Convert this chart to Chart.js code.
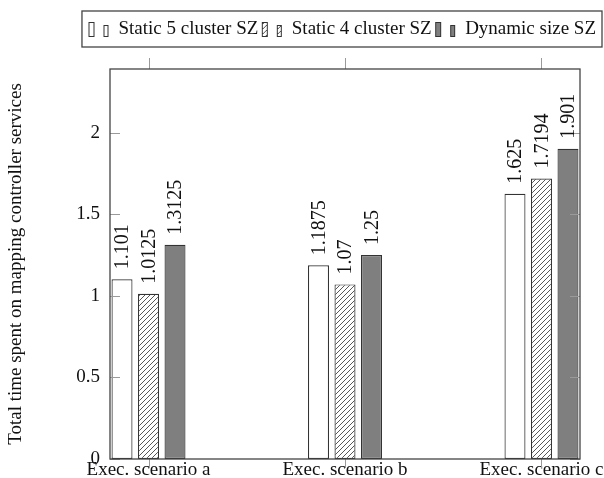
<!DOCTYPE html>
<html><head><meta charset="utf-8">
<script src="https://cdn.jsdelivr.net/npm/chart.js@4/dist/chart.umd.min.js"></script>
<style>html,body{margin:0;padding:0;background:#fff;} canvas{display:block;}</style>
</head><body>
<canvas id="c" width="604" height="478"></canvas>
<script>
const categories = ['Exec. scenario a', 'Exec. scenario b', 'Exec. scenario c'];
const seriesNames = ['Static 5 cluster SZ', 'Static 4 cluster SZ', 'Dynamic size SZ'];
const static5 = [1.101, 1.1875, 1.625];
const static4 = [1.0125, 1.07, 1.7194];
const dynamicSZ = [1.3125, 1.25, 1.901];
const yTicks = [0, 0.5, 1, 1.5, 2];
const yTickLabels = ['0', '0.5', '1', '1.5', '2'];
const yTitle = 'Total time spent on mapping controller services';

const FONT = "'Liberation Serif', 'Times New Roman', serif";
const INK = '#111';
const FRAME = '#444';

function makeHatch() {
  const s = 5;
  const c = document.createElement('canvas');
  c.width = s; c.height = s;
  const g = c.getContext('2d');
  g.fillStyle = '#fff'; g.fillRect(0, 0, s, s);
  g.strokeStyle = '#444'; g.lineWidth = 0.9;
  g.beginPath();
  g.moveTo(0, s); g.lineTo(s, 0);
  g.moveTo(-1, 1); g.lineTo(1, -1);
  g.moveTo(s - 1, s + 1); g.lineTo(s + 1, s - 1);
  g.stroke();
  return g.createPattern(c, 'repeat');
}
const hatch = makeHatch();
const fills = ['#ffffff', hatch, '#7f7f7f'];

function legendIcon(fill) {
  const c = document.createElement('canvas');
  c.width = 22; c.height = 17;
  const g = c.getContext('2d');
  g.lineWidth = 1; g.strokeStyle = '#333'; g.fillStyle = fill;
  g.fillRect(1.5, 1.5, 5, 14); g.strokeRect(1.5, 1.5, 5, 14);
  g.fillRect(16.5, 4.5, 4, 11); g.strokeRect(16.5, 4.5, 4, 11);
  return c;
}
const icons = fills.map(legendIcon);

const seriesValues = [static5, static4, dynamicSZ];

const framePlugin = {
  id: 'frame',
  beforeLayout(chart) {
    const lg = chart.legend;
    if (lg && !lg._patched) {
      const orig = lg.fit;
      lg.fit = function () { orig.call(this); this.height = 52; };
      lg._patched = true;
    }
  },
  afterDatasetsDraw(chart) {
    const {ctx, chartArea: a, scales} = chart;
    ctx.save();
    // tick marks
    ctx.strokeStyle = '#9a9a9a'; ctx.lineWidth = 1;
    ctx.beginPath();
    scales.y.ticks.forEach(t => {
      const py = Math.round(scales.y.getPixelForValue(t.value)) + 0.5;
      ctx.moveTo(a.left, py); ctx.lineTo(a.left + 10, py);
      ctx.moveTo(a.right - 10, py); ctx.lineTo(a.right, py);
    });
    scales.x.ticks.forEach(t => {
      const px = Math.round(scales.x.getPixelForValue(t.value)) + 0.5;
      ctx.moveTo(px, a.top - 11); ctx.lineTo(px, a.top);
      ctx.moveTo(px, a.bottom); ctx.lineTo(px, a.bottom + 9);
    });
    ctx.stroke();
    // frame
    ctx.strokeStyle = FRAME; ctx.lineWidth = 1.3;
    ctx.strokeRect(a.left, a.top, a.right - a.left, a.bottom - a.top);
    // value labels
    ctx.font = '20px ' + FONT; ctx.fillStyle = INK;
    ctx.textAlign = 'left'; ctx.textBaseline = 'middle';
    chart.data.datasets.forEach((ds, di) => {
      const meta = chart.getDatasetMeta(di);
      meta.data.forEach((el, i) => {
        ctx.save();
        ctx.translate(el.x, el.y - 10);
        ctx.rotate(-Math.PI / 2);
        ctx.fillText(String(seriesValues[di][i]), 0, 1);
        ctx.restore();
      });
    });
    ctx.restore();
  },
  afterDraw(chart) {
    const lg = chart.legend;
    if (!lg || !lg.legendHitBoxes || !lg.legendHitBoxes.length) return;
    const hb = lg.legendHitBoxes;
    const l = Math.min(...hb.map(h => h.left));
    const r = Math.max(...hb.map(h => h.left + h.width));
    const t = Math.min(...hb.map(h => h.top));
    const b = Math.max(...hb.map(h => h.top + h.height));
    const ctx = chart.ctx;
    ctx.save();
    ctx.strokeStyle = FRAME; ctx.lineWidth = 1.3;
    ctx.strokeRect(l - 6, t - 9, (r - l) + 12, (b - t) + 17);
    ctx.restore();
  }
};

new Chart(document.getElementById('c'), {
  type: 'bar',
  data: {
    datasets: seriesNames.map((name, di) => ({
      label: name,
      data: categories.map((c, i) => ({x: i, y: seriesValues[di][i]})),
      backgroundColor: fills[di],
      borderColor: '#333',
      borderWidth: 1.2,
      borderSkipped: false
    }))
  },
  options: {
    responsive: false,
    animation: false,
    layout: {padding: {left: 0, right: 5, top: 17, bottom: 0}},
    datasets: {bar: {categoryPercentage: 0.4046, barPercentage: 0.792}},
    scales: {
      x: {
        type: 'linear', min: -0.196, max: 2.196, offset: false,
        grid: {display: false, drawTicks: false}, border: {display: false},
        afterBuildTicks: s => { s.ticks = categories.map((c, i) => ({value: i})); },
        ticks: {callback: v => categories[v], font: {family: FONT, size: 19}, color: INK, padding: 0, maxRotation: 0, autoSkip: false},
        afterFit: s => { s.height = 19; s.paddingLeft = 0; s.paddingRight = 0; }
      },
      y: {
        min: 0, max: 2.39,
        grid: {display: false, drawTicks: false}, border: {display: false},
        afterBuildTicks: s => { s.ticks = yTicks.map(v => ({value: v})); },
        ticks: {callback: (v, i) => yTickLabels[i], font: {family: FONT, size: 19}, color: INK, padding: 10},
        title: {display: true, text: yTitle, font: {family: FONT, size: 19}, color: INK, padding: {top: 5, bottom: 0}},
        afterFit: s => { s.width = 110; s.paddingTop = 0; s.paddingBottom = 0; }
      },
      y2: {
        position: 'right', display: true,
        grid: {display: false, drawTicks: false}, border: {display: false},
        ticks: {display: false},
        afterFit: s => { s.width = 19; s.paddingTop = 0; s.paddingBottom = 0; }
      }
    },
    plugins: {
      tooltip: {enabled: false},
      legend: {
        position: 'top', align: 'end',
        labels: {
          usePointStyle: true, pointStyleWidth: 21, padding: 3,
          font: {family: FONT, size: 19}, color: INK,
          generateLabels: chart => Chart.defaults.plugins.legend.labels.generateLabels(chart).map((it, i) => Object.assign(it, {pointStyle: icons[i], lineWidth: 0}))
        }
      }
    }
  },
  plugins: [framePlugin]
});
</script>
</body></html>
